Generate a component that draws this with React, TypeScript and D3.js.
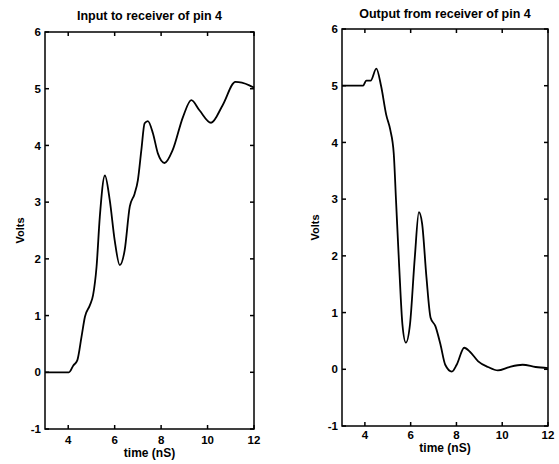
import React from 'react';
import * as d3 from 'd3';

// input waveform (left panel)
const timeIn = [3, 4.03, 4.22, 4.39, 4.57, 4.72, 4.93, 5.07, 5.22, 5.36, 5.58, 5.79, 6.0, 6.22, 6.43, 6.65, 6.86, 7.0, 7.15, 7.29, 7.43, 7.65, 7.86, 8.15, 8.5, 8.94, 9.3, 9.65, 10.15, 10.65, 11.2, 11.8, 12];
const voltsIn = [0, 0, 0.12, 0.21, 0.62, 0.98, 1.18, 1.36, 1.86, 2.74, 3.47, 3.03, 2.33, 1.89, 2.15, 2.92, 3.15, 3.39, 3.92, 4.39, 4.43, 4.21, 3.86, 3.69, 3.92, 4.5, 4.8, 4.62, 4.4, 4.71, 5.12, 5.06, 5.02];

// output waveform (right panel)
const timeOut = [3, 3.92, 4.06, 4.25, 4.5, 4.71, 4.93, 5.11, 5.26, 5.36, 5.5, 5.64, 5.79, 5.97, 6.18, 6.36, 6.5, 6.69, 6.87, 7.08, 7.3, 7.51, 7.8, 8.01, 8.34, 8.59, 8.95, 9.38, 9.81, 10.31, 10.89, 11.46, 12];
const voltsOut = [5, 5, 5.09, 5.09, 5.3, 4.99, 4.49, 4.22, 3.81, 2.98, 1.8, 0.79, 0.47, 0.79, 1.97, 2.77, 2.57, 1.62, 0.91, 0.76, 0.44, 0.08, -0.04, 0.08, 0.38, 0.31, 0.14, 0.04, -0.02, 0.04, 0.08, 0.04, 0.02];

const xTicks = [4, 6, 8, 10, 12];
const yTicks = [-1, 0, 1, 2, 3, 4, 5, 6];

const font = '"Liberation Sans", Arial, Helvetica, sans-serif';

type PanelProps = {
  title: string;
  t: number[];
  v: number[];
  left: number;
  right: number;
  top: number;
  bottom: number;
  titleY: number;
  tickY: number;
  xLabelY: number;
  yLabelX: number;
};

const Panel = ({ title, t, v, left, right, top, bottom, titleY, tickY, xLabelY, yLabelX }: PanelProps) => {
  const x = d3.scaleLinear().domain([3, 12]).range([left, right]);
  const y = d3.scaleLinear().domain([-1, 6]).range([bottom, top]);
  const pts: [number, number][] = t.map((d, i) => [d, v[i]]);
  const line = d3.line<[number, number]>()
    .x(d => x(d[0]))
    .y(d => y(d[1]))
    .curve(d3.curveMonotoneX);
  const tk = 4;
  const cx = (left + right) / 2;

  return (
    <g fontFamily={font} fill="#000">
      <text x={cx} y={titleY} textAnchor="middle" fontSize={12.5} fontWeight="bold">{title}</text>
      <rect x={left} y={top} width={right - left} height={bottom - top} fill="none" stroke="#000" strokeWidth={1.5} />
      {/* ticks point inward on all four sides */}
      {xTicks.map(d => (
        <g key={'x' + d}>
          <line x1={x(d)} x2={x(d)} y1={bottom} y2={bottom - tk} stroke="#000" strokeWidth={1.5} />
          <line x1={x(d)} x2={x(d)} y1={top} y2={top + tk} stroke="#000" strokeWidth={1.5} />
          <text x={x(d)} y={bottom + tickY} textAnchor="middle" fontSize={11.5} fontWeight="bold">{d}</text>
        </g>
      ))}
      {yTicks.map(d => (
        <g key={'y' + d}>
          <line x1={left} x2={left + tk} y1={y(d)} y2={y(d)} stroke="#000" strokeWidth={1.5} />
          <line x1={right} x2={right - tk} y1={y(d)} y2={y(d)} stroke="#000" strokeWidth={1.5} />
          <text x={left - 4} y={y(d)} dy="0.36em" textAnchor="end" fontSize={11.5} fontWeight="bold">{d}</text>
        </g>
      ))}
      <path d={line(pts) || ''} fill="none" stroke="#000" strokeWidth={1.8} strokeLinejoin="round" />
      <text x={cx} y={bottom + xLabelY} textAnchor="middle" fontSize={12} fontWeight="bold">time (nS)</text>
      <text transform={`translate(${yLabelX},${(top + bottom) / 2}) rotate(-90)`} textAnchor="middle" dy="0.35em" fontSize={11} fontWeight="bold">Volts</text>
    </g>
  );
};

export default function App() {
  return (
    <svg width={559} height={464} style={{ position: 'absolute', left: 0, top: 0, background: '#fff' }}>
      <rect width={559} height={464} fill="#fff" />
      <Panel title="Input to receiver of pin 4" t={timeIn} v={voltsIn}
        left={45} right={254} top={32} bottom={429} titleY={20} tickY={15} xLabelY={28} yLabelX={20} />
      <Panel title="Output from receiver of pin 4" t={timeOut} v={voltsOut}
        left={342} right={548} top={29} bottom={426} titleY={18} tickY={13} xLabelY={26} yLabelX={315} />
    </svg>
  );
}
